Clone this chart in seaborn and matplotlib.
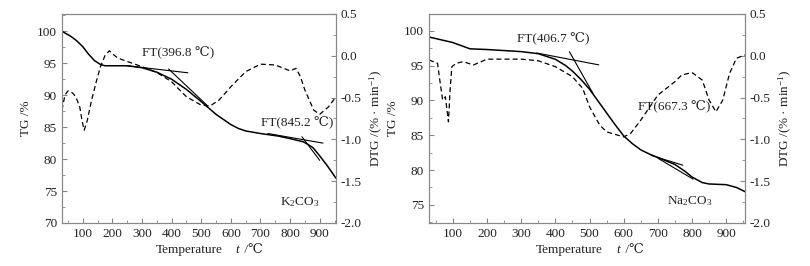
import matplotlib
matplotlib.use("Agg")
import matplotlib.pyplot as plt
import numpy as np
import pandas as pd
import seaborn as sns
from matplotlib.ticker import MultipleLocator, FormatStrFormatter

# K2CO3 panel
k_temp = [30, 60, 80, 100, 120, 140, 160, 175, 200, 250, 300, 350, 400, 450, 500,
          520, 550, 575, 600, 625, 650, 675, 700, 730, 760, 800, 845, 860, 877, 900,
          925, 955]
k_tg = [100.0, 99.2, 98.5, 97.6, 96.4, 95.4, 94.8, 94.6, 94.6, 94.6, 94.3, 93.6, 92.5,
        90.9, 89.0, 88.2, 87.0, 86.2, 85.4, 84.8, 84.4, 84.2, 84.0, 83.8, 83.6, 83.2,
        82.7, 82.3, 81.8, 80.5, 79.0, 77.0]
k_dtg_temp = [30, 40, 50, 60, 70, 80, 90, 98, 105, 115, 130, 145, 160, 175, 190, 205,
              220, 260, 300, 350, 400, 450, 500, 530, 560, 600, 650, 700, 750, 800,
              820, 835, 850, 880, 900, 930, 955]
k_dtg = [-0.65, -0.47, -0.42, -0.43, -0.46, -0.52, -0.61, -0.78, -0.89, -0.78, -0.53,
         -0.32, -0.13, 0.00, 0.06, 0.01, -0.03, -0.08, -0.13, -0.20, -0.31, -0.49, -0.59,
         -0.60, -0.53, -0.37, -0.19, -0.10, -0.11, -0.18, -0.15, -0.25, -0.41, -0.65,
         -0.70, -0.61, -0.49]
k_tangents = [((250, 455), (94.6, 93.5)), ((390, 520), (94.1, 88.4)),
              ((725, 911), (84.0, 82.5)), ((840, 900), (83.5, 79.8))]
k_ft = ["FT(396.8 ℃)", "FT(845.2 ℃)"]

# Na2CO3 panel
na_temp = [30, 100, 150, 200, 300, 350, 400, 430, 450, 475, 500, 525, 550, 575, 600,
           625, 650, 675, 700, 750, 780, 800, 830, 850, 900, 930, 955]
na_tg = [99.1, 98.3, 97.4, 97.3, 97.0, 96.7, 95.9, 95.0, 94.2, 93.0, 91.6, 89.9, 88.2,
         86.5, 84.9, 83.8, 82.9, 82.3, 81.8, 80.8, 79.8, 79.0, 78.2, 78.0, 77.9, 77.5,
         76.9]
na_dtg_temp = [30, 55, 62, 70, 78, 87, 92, 97, 110, 130, 160, 200, 300, 350, 400, 450,
               480, 500, 530, 550, 600, 620, 650, 700, 750, 770, 800, 830, 850, 870, 890,
               910, 930, 955]
na_dtg = [-0.05, -0.09, -0.30, -0.53, -0.49, -0.79, -0.40, -0.13, -0.09, -0.07, -0.11,
          -0.04, -0.04, -0.06, -0.13, -0.25, -0.39, -0.61, -0.83, -0.91, -0.97, -0.93,
          -0.77, -0.47, -0.31, -0.23, -0.20, -0.29, -0.53, -0.67, -0.53, -0.21, -0.03,
          0.01]
na_tangents = [((345, 527), (96.8, 95.1)), ((441, 510), (97.0, 91.0)),
               ((680, 773), (82.1, 80.7)), ((700, 803), (81.7, 78.7))]
na_ft = ["FT(406.7 ℃)", "FT(667.3 ℃)"]

sns.set_style("ticks")
plt.rcParams["font.family"] = ["Liberation Serif", "DejaVu Serif"]
plt.rcParams["mathtext.fontset"] = "custom"
plt.rcParams["mathtext.rm"] = "Liberation Serif"
plt.rcParams["mathtext.it"] = "Liberation Serif:italic"
plt.rcParams["font.size"] = 9

TXT = "#222222"
SPINE = "#888888"


def style_axis(ax):
    for s in ax.spines.values():
        s.set_color(SPINE)
        s.set_linewidth(0.8)
    ax.tick_params(which="both", direction="in", colors=SPINE, labelcolor=TXT,
                   labelsize=9.5, top=False)
    ax.tick_params(which="major", length=3.5)
    ax.tick_params(which="minor", length=2)


def draw_panel(ax, temp, tg, dtg_temp, dtg, tangents, ft, ft_pos, ylim, yticks,
               salt, salt_pos, xlab_pos):
    sns.lineplot(x=temp, y=tg, ax=ax, color="black", linewidth=1.1)
    for xs, ys in tangents:
        sns.lineplot(x=list(xs), y=list(ys), ax=ax, color="black", linewidth=0.8)
    for label, (tx, ty) in zip(ft, ft_pos):
        ax.text(tx, ty, label, fontsize=9.5, color=TXT, va="center")
    ax.text(salt_pos[0], salt_pos[1], salt, fontsize=9.5, color=TXT, va="center")
    ax.set_xlim(30, 955)
    ax.set_ylim(*ylim)
    ax.set_yticks(yticks)
    ax.set_xticks([100, 200, 300, 400, 500, 600, 700, 800, 900])
    ax.xaxis.set_minor_locator(MultipleLocator(50))
    ax.yaxis.set_minor_locator(MultipleLocator(2.5))
    ax.set_xlabel("")
    ax.set_ylabel("TG /%", color=TXT, fontsize=9.5, labelpad=4)
    style_axis(ax)

    # x label: "Temperature    t /℃" with italic t
    x_end, x_t = xlab_pos
    ax.text(x_end, -0.13, "Temperature", transform=ax.transAxes, ha="right",
            va="center", fontsize=9.5, color=TXT)
    ax.text(x_t, -0.13, "t", transform=ax.transAxes, ha="center", va="center",
            fontsize=9.5, color=TXT, style="italic")
    ax.text(x_t + 0.012, -0.13, " /℃", transform=ax.transAxes, ha="left",
            va="center", fontsize=9.5, color=TXT)

    ax2 = ax.twinx()
    sns.lineplot(x=dtg_temp, y=dtg, ax=ax2, color="black", linewidth=0.9,
                 linestyle=(0, (4, 2.5)))
    ax2.set_ylim(-2.0, 0.5)
    ax2.yaxis.set_major_locator(MultipleLocator(0.5))
    ax2.yaxis.set_minor_locator(MultipleLocator(0.25))
    ax2.yaxis.set_major_formatter(FormatStrFormatter("%.1f"))
    ax2.set_ylabel("DTG /(% · min$^{-1}$)", color=TXT, fontsize=9.5, labelpad=4)
    style_axis(ax2)
    ax2.tick_params(which="both", right=True, left=False)
    return ax2


fig = plt.figure(figsize=(8.1, 2.66), dpi=100)
ax_k = fig.add_axes([0.0765, 0.1617, 0.3383, 0.7857])
ax_na = fig.add_axes([0.5296, 0.1617, 0.3901, 0.7857])

draw_panel(ax_k, k_temp, k_tg, k_dtg_temp, k_dtg, k_tangents, k_ft,
           [(300, 96.6), (702, 85.7)], (70, 102.7), [70, 75, 80, 85, 90, 95, 100],
           "K$_2$CO$_3$", (766, 73.3), (0.585, 0.64))
draw_panel(ax_na, na_temp, na_tg, na_dtg_temp, na_dtg, na_tangents, na_ft,
           [(287, 98.85), (643, 89.1)], (72.4, 102.4), [75, 80, 85, 90, 95, 100],
           "Na$_2$CO$_3$", (726, 75.5), (0.55, 0.598))

fig.savefig("out.png", dpi=100)
